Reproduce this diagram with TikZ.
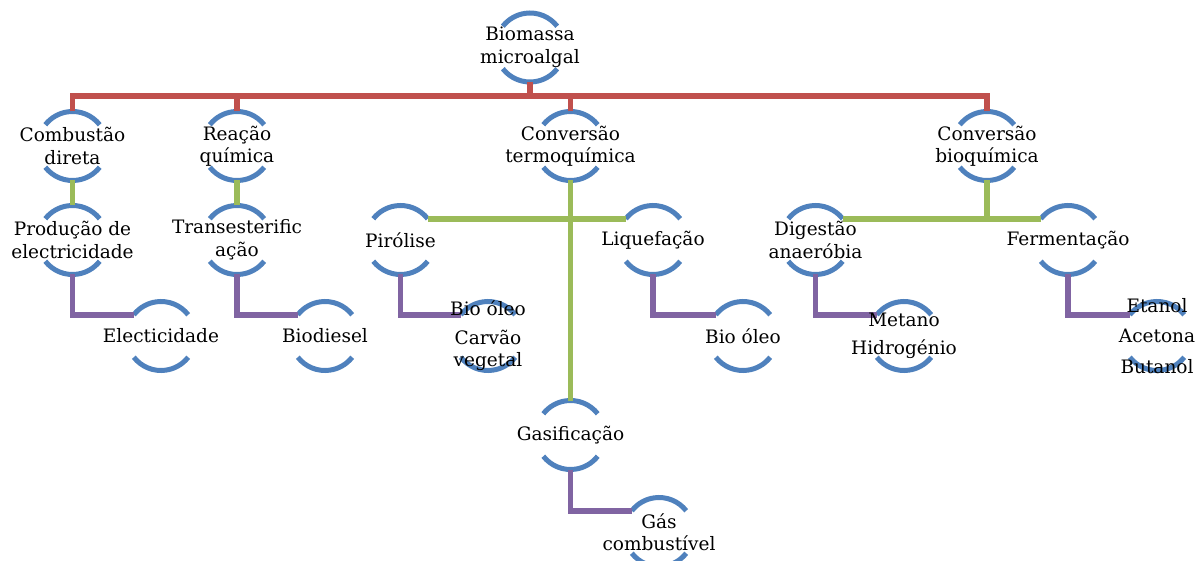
\documentclass[tikz,border=0pt]{standalone}
\usepackage{fontspec}
\setmainfont{DejaVu Serif}
\usetikzlibrary{calc}
\definecolor{cblue}{HTML}{4F81BD}
\definecolor{cred}{HTML}{C0504D}
\definecolor{cgreen}{HTML}{9BBB59}
\definecolor{cpurple}{HTML}{8064A2}
\pgfdeclarelayer{bg}
\pgfsetlayers{bg,main}
\tikzset{
  lbl/.style={align=center, font=\fontsize{18.5}{22.5}\selectfont, inner sep=0pt},
  ring/.style={cblue, line width=5pt},
  redl/.style={cred, line width=5.5pt},
  greenl/.style={cgreen, line width=5.5pt},
  purplel/.style={cpurple, line width=5.5pt},
}
\newcommand\rings[1]{%
  \draw[ring] ([shift={(38:34.5pt)}]#1.center) arc[start angle=38,end angle=142,radius=34.5pt];
  \draw[ring] ([shift={(218:34.5pt)}]#1.center) arc[start angle=218,end angle=322,radius=34.5pt];}
\begin{document}
\begin{tikzpicture}[x=1pt,y=1pt]
\useasboundingbox (0,0) rectangle (1197,-561);
% level 0
\node[lbl] (bio) at (530,-47.5) {Biomassa\\microalgal};
% level 1
\node[lbl] (comb) at (72.5,-146) {Combustão\\direta};
\node[lbl] (reac) at (237,-146) {Reação\\química};
\node[lbl] (term) at (570.5,-146) {Conversão\\termoquímica};
\node[lbl] (bioq) at (987,-146) {Conversão\\bioquímica};
% level 2
\node[lbl] (prod) at (72.5,-240) {Produção de\\electricidade};
\node[lbl] (trans) at (237,-240) {Transesterific\\ação};
\node[lbl] (pir) at (400.5,-240) {Pirólise};
\node[lbl] (liq) at (653,-240) {Liquefação};
\node[lbl] (dig) at (815.5,-240) {Digestão\\anaeróbia};
\node[lbl] (ferm) at (1068,-240) {Fermentação};
% level 3
\node[lbl] (elec) at (161,-336) {Electicidade};
\node[lbl] (biod) at (325,-336) {Biodiesel};
\node[lbl] (pirc) at (488,-336) {Bio óleo\\[6pt]Carvão\\vegetal};
\node[lbl] (liqc) at (743,-336) {Bio óleo};
\node[lbl] (digc) at (904,-336) {Metano\\[6pt]Hidrogénio};
\node[lbl] (fermc) at (1157,-336) {Etanol\\[8pt]Acetona\\[8pt]Butanol};
% gasification branch
\node[lbl] (gas) at (570.5,-435) {Gasificação};
\node[lbl] (gasc) at (659,-532) {Gás\\combustível};
\begin{pgfonlayer}{bg}
  \foreach \n in {bio,comb,reac,term,bioq,prod,trans,pir,liq,dig,ferm,elec,biod,pirc,liqc,digc,fermc,gas,gasc}{\rings{\n}}
  % red
  \coordinate (bus) at (530,-96);
  \draw[redl] ([yshift=-34.5pt]bio.center) -- (bus);
  \foreach \n in {comb,reac,term,bioq}{\draw[redl] ([yshift=34.5pt]\n.center) |- (bus);}
  % green
  \draw[greenl] ([yshift=-34.5pt]comb.center) -- ([yshift=34.5pt]prod.center);
  \draw[greenl] ([yshift=-34.5pt]reac.center) -- ([yshift=34.5pt]trans.center);
  \draw[greenl] ([yshift=-34.5pt]term.center) -- ([yshift=34.5pt]gas.center);
  \draw[greenl] ([shift={(38:34.5pt)}]pir.center) -- ([shift={(142:34.5pt)}]liq.center);
  \draw[greenl] ([shift={(38:34.5pt)}]dig.center) coordinate (dg) -- ([shift={(142:34.5pt)}]ferm.center);
  \draw[greenl] ([yshift=-34.5pt]bioq.center) -- (bioq.center |- dg);
  % purple
  \foreach \p/\c in {prod/elec,trans/biod,pir/pirc,liq/liqc,dig/digc,ferm/fermc,gas/gasc}{
    \draw[purplel] ([yshift=-34.5pt]\p.center) |- ([shift={(142:34.5pt)}]\c.center);}
\end{pgfonlayer}
\end{tikzpicture}
\end{document}
